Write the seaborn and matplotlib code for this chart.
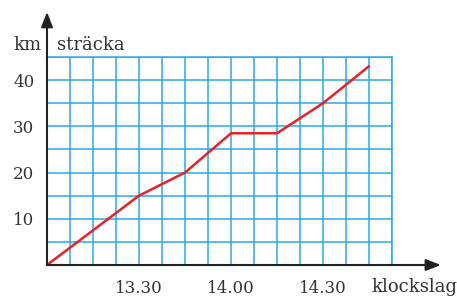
import numpy as np
import matplotlib
matplotlib.use('Agg')
import matplotlib.pyplot as plt
import seaborn as sns

# minutes after 13.00 and distance in km
minutes = [0, 30, 45, 60, 75, 90, 105]
distance = [0, 15, 20, 28.5, 28.5, 35, 43]
x_ticks = [30, 60, 90]
x_labels = ['13.30', '14.00', '14.30']
y_ticks = [10, 20, 30, 40]

sns.set_style('white')
plt.rcParams['font.family'] = ['DejaVu Serif']

grid_col = '#2aaae2'
fig = plt.figure(figsize=(4.57, 2.96), dpi=100)
ax = fig.add_axes([47 / 457, 31 / 296, 345 / 457, 208 / 296])

sns.lineplot(x=minutes, y=distance, ax=ax, color='#e62228', linewidth=1.8, zorder=5)

ax.set_xlim(0, 112.5)
ax.set_ylim(0, 45)
ax.set_xticks(np.arange(0, 113, 7.5), minor=True)
ax.set_yticks(np.arange(0, 46, 5), minor=True)
ax.set_xticks(x_ticks)
ax.set_xticklabels(x_labels)
ax.set_yticks(y_ticks)
ax.grid(True, which='both', color=grid_col, linewidth=1.1)
ax.tick_params(which='minor', length=0)
ax.tick_params(which='major', length=6, width=1.2, color='#222222',
               labelsize=12, labelcolor='#333333', pad=3, direction='out')
ax.tick_params(axis='x', pad=5)

for s in ['top', 'right']:
    ax.spines[s].set_color(grid_col)
    ax.spines[s].set_linewidth(1.1)
for s in ['left', 'bottom']:
    ax.spines[s].set_color('#222222')
    ax.spines[s].set_linewidth(1.5)
    ax.spines[s].set_zorder(6)

# axis arrows
ax.annotate('', xy=(0, 1.23), xycoords='axes fraction', xytext=(0, 0.98),
            arrowprops=dict(arrowstyle='-|>,head_length=0.9,head_width=0.35',
                            color='#222222', lw=1.5), annotation_clip=False)
ax.annotate('', xy=(1.15, 0), xycoords='axes fraction', xytext=(0.98, 0),
            arrowprops=dict(arrowstyle='-|>,head_length=0.9,head_width=0.35',
                            color='#222222', lw=1.5), annotation_clip=False)

fig.text(27 / 457, 1 - 45 / 296, 'km', ha='center', va='center', fontsize=13, color='#333333')
fig.text(57 / 457, 1 - 45 / 296, 'sträcka', ha='left', va='center', fontsize=13, color='#333333')
fig.text(371 / 457, 1 - 287 / 296, 'klockslag', ha='left', va='center', fontsize=13, color='#333333')

fig.savefig('out.png', dpi=100)
